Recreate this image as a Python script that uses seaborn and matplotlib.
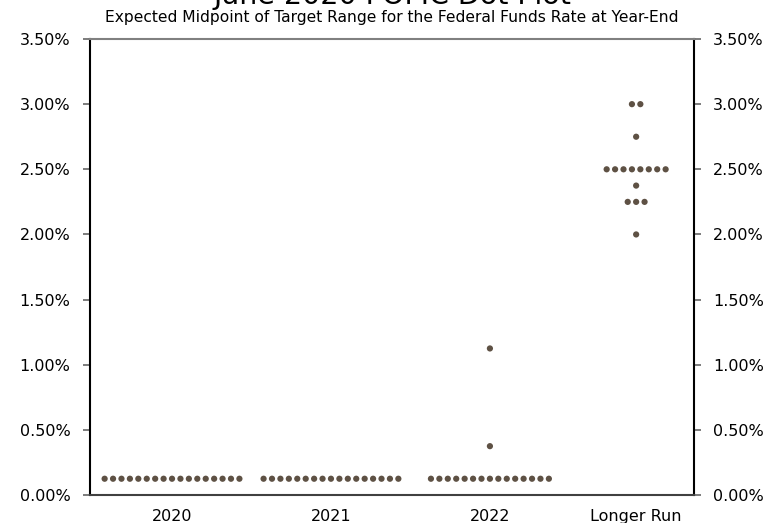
import numpy as np
import pandas as pd
import matplotlib
matplotlib.use("Agg")
import matplotlib.pyplot as plt
import seaborn as sns
from matplotlib.ticker import FuncFormatter

# Datos: proyecciones de cada participante (punto medio del rango objetivo, %)
categorias = ["2020", "2021", "2022", "Longer Run"]
tasas_2020 = [0.125] * 17
tasas_2021 = [0.125] * 17
tasas_2022 = [0.125] * 15 + [0.375, 1.125]
tasas_largo = [2.0, 2.25, 2.25, 2.25, 2.375] + [2.5] * 8 + [2.75, 3.0, 3.0]

# Posicion de cada categoria en el eje x
pos_categoria = [0, 1, 2, 2.92]
sep_puntos = 0.053  # separacion horizontal entre puntos iguales

filas = []
for cat, pos, tasas in zip(categorias, pos_categoria,
                           [tasas_2020, tasas_2021, tasas_2022, tasas_largo]):
    serie = pd.Series(tasas)
    for valor, grupo in serie.groupby(serie):
        n = len(grupo)
        for i in range(n):
            filas.append({"categoria": cat,
                          "x": pos + (i - (n - 1) / 2) * sep_puntos,
                          "tasa": valor})
df = pd.DataFrame(filas)

sns.set_style("white")
plt.rcParams["font.family"] = ["DejaVu Sans"]
plt.rcParams["text.color"] = "black"
plt.rcParams["xtick.color"] = "black"
plt.rcParams["ytick.color"] = "black"

fig, ax = plt.subplots(figsize=(7.84, 5.23), dpi=100)
fig.subplots_adjust(left=0.1148, right=0.885, top=0.9254, bottom=0.0535)

sns.scatterplot(data=df, x="x", y="tasa", color="#5e5144", s=20,
                edgecolor="none", ax=ax, legend=False)

ax.set_xlim(-0.516, 3.283)
ax.set_ylim(0, 3.5)
ax.set_xticks(pos_categoria)
ax.set_xticklabels(categorias)
ax.set_yticks(np.arange(0, 3.51, 0.5))
ax.yaxis.set_major_formatter(FuncFormatter(lambda v, p: f"{v:.2f}%"))
ax.set_xlabel("")
ax.set_ylabel("")

ax.tick_params(axis="y", which="both", left=True, right=True,
               labelleft=True, labelright=True, length=5, width=1.2,
               color="#666666", labelcolor="black", pad=9, labelsize=11.5,
               direction="out")
ax.tick_params(axis="x", length=0, pad=10, labelsize=11.5, labelcolor="black")

ax.spines["left"].set_color("black")
ax.spines["right"].set_color("black")
ax.spines["top"].set_color("#808080")
ax.spines["bottom"].set_color("#404040")
for s in ax.spines.values():
    s.set_linewidth(1.5)

# Titulo (recortado arriba, como en el original) y subtitulo
fig.text(0.5, 1 - 4 / 523, "June 2020 FOMC Dot Plot", ha="center",
         va="baseline", fontsize=20.5)
fig.text(0.5, 0.967, "Expected Midpoint of Target Range for the Federal Funds Rate at Year-End",
         ha="center", va="center", fontsize=11.2)

plt.savefig("out.png", dpi=100)
